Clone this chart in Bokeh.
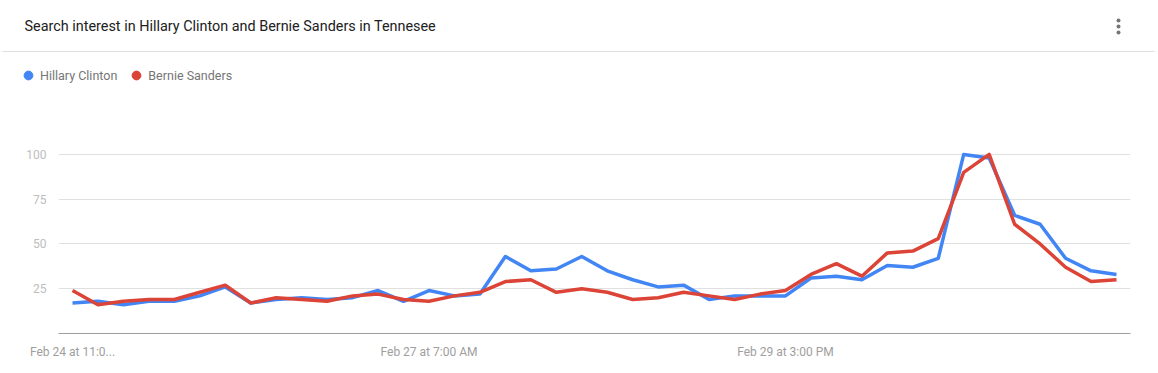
from bokeh.plotting import figure
from bokeh.layouts import column
from bokeh.models import (FixedTicker, Label, Legend, LegendItem, ColumnDataSource, Range1d)
from bokeh.embed import file_html
from bokeh.resources import INLINE

# ---- data (every 4 hours, starting Feb 24 11:00 PM) ----
hillary = [17, 18, 16, 18, 18, 21, 26, 17, 19, 20,
           19, 20, 24, 18, 24, 21, 22, 43, 35, 36,
           43, 35, 30, 26, 27, 19, 21, 21, 21, 31,
           32, 30, 38, 37, 42, 100, 98, 66, 61, 42,
           35, 33]
bernie = [24, 16, 18, 19, 19, 23, 27, 17, 20, 19,
          18, 21, 22, 19, 18, 21, 23, 29, 30, 23,
          25, 23, 19, 20, 23, 21, 19, 22, 24, 33,
          39, 32, 45, 46, 53, 90, 100, 61, 50, 37,
          29, 30]
idx = list(range(len(hillary)))
tick_positions = [0, 14, 28]
tick_labels = ["Feb 24 at 11:0...", "Feb 27 at 7:00 AM", "Feb 29 at 3:00 PM"]
y_ticks = [25, 50, 75, 100]
series_names = ["Hillary Clinton", "Bernie Sanders"]
colors = ["#4285F4", "#DB4437"]
title_text = "Search interest in Hillary Clinton and Bernie Sanders in Tennesee"

FONT = "Roboto"
W = 1158
H1 = 100          # header height
H2 = 373 - H1     # chart height

# ---------------- header ----------------
hdr = figure(width=W, height=H1, output_backend="svg", toolbar_location=None,
             x_range=Range1d(0, W), y_range=Range1d(H1, 0),
             x_axis_type=None, y_axis_type=None,
             min_border=0, min_border_left=0, min_border_right=0,
             min_border_top=0, min_border_bottom=0,
             background_fill_color="white", border_fill_color="white",
             outline_line_color=None)
hdr.frame_align = False
hdr.grid.visible = False

hdr.add_layout(Label(x=24, y=26, text=title_text, text_font=FONT,
                     text_font_size="14.4px", text_color="#212121",
                     text_baseline="middle", text_align="left"))
# divider
hdr.segment(x0=[2], y0=[51], x1=[1154], y1=[51], line_color="#e0e0e0", line_width=1)
# kebab menu
hdr.scatter(x=[1118, 1118, 1118], y=[20, 26, 32], marker="circle", size=4,
            fill_color="#757575", line_color=None)

proxy = ColumnDataSource(dict(x=[float("nan")], y=[float("nan")]))
m1 = hdr.scatter("x", "y", source=proxy, marker="circle", fill_color=colors[0], line_color=colors[0])
m2 = hdr.scatter("x", "y", source=proxy, marker="circle", fill_color=colors[1], line_color=colors[1])
legend = Legend(items=[LegendItem(label=series_names[0], renderers=[m1]),
                       LegendItem(label=series_names[1], renderers=[m2])],
                orientation="horizontal", location=(17, H1 - 86),
                glyph_width=22, glyph_height=22, label_standoff=1, spacing=8,
                padding=0, margin=0, border_line_color=None, background_fill_alpha=0,
                label_text_font=FONT, label_text_font_size="12.5px",
                label_text_color="#757575", label_height=22)
hdr.add_layout(legend, "center")

# ---------------- chart ----------------
ML, MR = 58, 28
MT = 136 - H1
MB = H2 - (333 - H1)

p = figure(width=W, height=H2, output_backend="svg", toolbar_location=None,
           x_range=(-0.55, 41.55), y_range=(0, 110),
           min_border_left=ML, min_border_right=MR, min_border_top=MT, min_border_bottom=MB,
           background_fill_color="white", border_fill_color="white", outline_line_color=None)
p.frame_align = False

src = ColumnDataSource(dict(x=idx, h=hillary, b=bernie))
p.line("x", "h", source=src, line_color=colors[0], line_width=3.5, line_join="round")
p.line("x", "b", source=src, line_color=colors[1], line_width=3.5, line_join="round")

p.xaxis.ticker = FixedTicker(ticks=tick_positions)
p.xaxis.major_label_overrides = {t: l for t, l in zip(tick_positions, tick_labels)}
p.xaxis.axis_line_color = "#9e9e9e"
p.xaxis.major_tick_line_color = None
p.xaxis.minor_tick_line_color = None
p.xaxis.major_label_text_font = FONT
p.xaxis.major_label_text_font_size = "12px"
p.xaxis.major_label_text_color = "#9e9e9e"
p.xaxis.major_label_standoff = 5

p.yaxis.ticker = FixedTicker(ticks=y_ticks)
p.yaxis.axis_line_color = None
p.yaxis.major_tick_line_color = None
p.yaxis.minor_tick_line_color = None
p.yaxis.major_label_text_font = FONT
p.yaxis.major_label_text_font_size = "12px"
p.yaxis.major_label_text_color = "#bdbdbd"
p.yaxis.major_label_standoff = 6

p.xgrid.grid_line_color = None
p.ygrid.grid_line_color = "#e0e0e0"
p.ygrid.grid_line_width = 1

layout = column(hdr, p, spacing=0)
open("out.html", "w").write(file_html(layout, INLINE))
